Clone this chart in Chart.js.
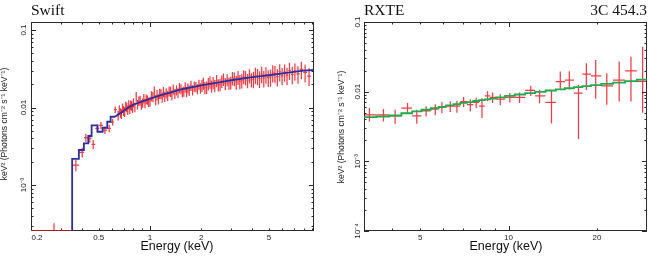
<!DOCTYPE html>
<html><head><meta charset="utf-8">
<script src="https://cdn.jsdelivr.net/npm/chart.js@4.4.0/dist/chart.umd.min.js"></script>
<style>
html,body{margin:0;padding:0;background:#fff;width:648px;height:257px;overflow:hidden}
.box{position:absolute;top:0;height:257px;width:324px}
canvas{display:block}
</style></head><body>
<div class="box" style="left:0"><canvas id="c1" width="324" height="257"></canvas></div>
<div class="box" style="left:324px"><canvas id="c2" width="324" height="257"></canvas></div>
<script>
// ---------- Swift XRT spectrum (flux in units of 1e-3 keV^2 ph cm^-2 s^-1 keV^-1) ----------
const swiftE = [0.367,0.40,0.42,0.443,0.464,0.49,0.515,0.544,0.576,0.603,0.625,
0.65,0.66,0.67,0.68,0.69,0.70,0.71,0.72,0.73,0.74,0.75,0.76,0.77,0.78,0.79,0.80,0.815,0.83,0.845,0.86,0.875,0.89,0.905,0.92,0.935,0.95,0.965,0.98,
1.00,1.02,1.04,1.06,1.08,1.10,1.12,1.14,1.16,1.18,1.20,1.22,1.245,1.27,1.295,1.32,1.345,1.37,1.40,1.43,1.46,1.49,1.52,1.55,1.58,1.61,1.64,1.67,1.70,1.74,1.78,1.82,1.86,1.90,1.94,1.98,
2.02,2.06,2.10,2.15,2.20,2.25,2.30,2.35,2.40,2.46,2.52,2.58,2.64,2.70,2.77,2.84,2.91,2.98,3.05,3.13,3.21,3.29,3.37,3.46,3.55,3.64,3.74,3.84,3.94,
4.05,4.16,4.28,4.40,4.53,4.66,4.80,4.95,5.10,5.26,5.42,5.60,5.78,5.97,6.17,6.38,6.60,6.85,7.10,7.40,7.75,8.15,8.60];
const swiftF = [1.81,2.64,4.1,4.0,3.35,5.4,5.9,5.1,5.4,6.5,9.4,
7.9,9.4,8.6,8.3,9.9,9.1,8.8,10.4,10.1,9.3,10.9,9.6,10.8,10.6,9.9,11.6,10.1,13.9,11.0,12.2,12.4,10.9,11.5,13.1,11.4,12.9,12.6,11.8,
12.0,14.1,13.8,16.2,12.6,14.6,12.9,15.2,15.0,13.6,16.0,13.9,15.4,14.2,16.3,16.1,14.5,17.2,15.1,16.9,15.5,18.0,17.4,15.8,16.2,18.4,16.0,17.9,16.6,19.2,16.9,18.8,18.5,17.4,19.9,17.8,
19.4,20.6,18.1,18.3,20.3,21.4,18.9,21.0,19.2,22.3,19.6,19.8,21.9,23.2,20.4,22.8,20.6,21.0,24.0,23.6,21.4,24.6,21.7,22.2,25.1,24.4,22.4,25.8,22.9,
23.3,26.2,25.5,23.6,27.0,24.0,26.6,24.3,24.8,28.0,27.4,25.0,29.0,25.9,28.7,26.1,30.2,26.8,29.6,27.1,31.0,28.4,25.5];
const swiftErr = [0.30,0.38,0.5,0.5,0.45,0.6,0.6,0.55,0.6,0.65,0.9,
1.1,1.3,1.2,1.2,1.4,1.3,1.25,1.45,1.4,1.3,1.5,1.35,1.5,1.5,1.4,1.6,1.4,2.0,1.55,1.7,1.75,1.55,1.6,1.85,1.6,1.8,1.75,1.65,
1.8,2.1,2.1,2.5,1.9,2.2,1.95,2.3,2.25,2.05,2.4,2.1,2.3,2.15,2.45,2.4,2.2,2.6,2.25,2.55,2.3,2.7,2.6,2.35,2.45,2.75,2.4,2.7,2.5,2.9,2.55,2.8,2.8,2.6,3.0,2.7,
3.5,3.7,3.3,3.3,3.7,3.9,3.4,3.8,3.5,4.0,3.5,3.6,4.0,4.2,3.7,4.1,3.8,3.9,4.8,4.8,4.4,5.1,4.5,4.6,5.2,5.1,4.7,5.4,4.8,
5.6,6.3,6.1,5.7,6.5,5.8,6.4,5.9,6.2,7.0,6.9,6.3,7.3,6.5,7.2,6.6,7.6,6.8,7.5,6.9,7.9,7.3,6.6];
// isolated low-energy channel near the bottom of the plot
const swiftLoneE = [0.273];
const swiftLoneF = [0.26];
const swiftLoneErr = [0.06];
// blue model: stepped low-energy part and smooth part
const swiftStepE = [0.349,0.349,0.382,0.409,0.434,0.454,0.492,0.527,0.561,0.587,0.623];
const swiftStepF = [0.1,1.42,2.17,2.83,3.45,4.29,5.89,4.87,5.48,6.55,7.6];
const swiftModelE = [0.623,0.65,0.70,0.757,0.80,0.85,0.90,1.0,1.1,1.2,1.3,1.5,1.7,2.0,2.5,3.0,3.5,4.0,4.5,5.0,6.0,7.0,8.0,9.2];
const swiftModelF = [7.6,8.1,9.0,10.2,10.9,11.5,12.0,12.9,13.9,14.8,15.5,17.0,18.0,19.3,21.0,22.5,23.7,24.7,25.4,26.1,27.6,28.8,30.0,30.5];
// data below the plotted range (drawn along the lower frame)
const swiftFloorE = [0.2, 0.349];
const swiftXTicks = [0.2, 0.5, 1, 2, 5];
const swiftYTicks = [0.1, 0.01, 0.001];
const swiftYLabels = ['0.1', '0.01', '10\u207B\u00B3'];

// ---------- RXTE spectrum (flux in units of 1e-3) ----------
const rxteE = [3.36,3.75,4.11,4.53,4.87,5.24,5.63,5.93,6.33,6.67,7.03,7.41,7.76,8.12,8.48,8.82,9.37,10.1,10.9,11.9,12.75,14.0,15.0,16.1,17.3,18.4,19.8,21.6,23.8,26.1,28.6];
const rxteF = [4.64,4.64,4.5,5.8,4.5,5.3,5.6,6.0,6.2,6.2,7.2,6.5,7.0,6.2,8.7,8.3,7.8,8.3,8.3,10.4,8.7,7.0,13.9,14.7,9.5,17.8,16.8,12.1,14.7,19.8,14.0];
const rxteErrLo = [0.9,0.9,1.05,1.0,1.05,0.9,1.0,1.1,1.1,1.2,1.2,1.3,1.2,2.0,1.4,1.4,1.4,1.3,1.4,1.7,1.9,3.5,3.3,4.0,7.4,7.2,8.9,5.6,7.5,12.6,9.0];
const rxteErrHi = [1.2,1.0,1.0,1.1,1.0,0.9,1.0,1.1,1.1,1.2,1.2,1.3,1.2,1.9,1.4,1.4,1.4,1.3,1.4,1.7,1.9,3.6,5.5,5.0,3.0,7.7,11.7,6.3,12.3,12.0,30.0];
const rxteModelF = [4.3,4.4,4.55,4.9,5.2,5.5,5.8,6.05,6.35,6.6,6.9,7.1,7.35,7.55,7.75,7.95,8.3,8.7,9.1,9.55,9.9,10.4,10.8,11.2,11.6,12.0,12.4,12.9,13.5,14.2,14.9];
const rxteXTicks = [5, 10, 20];
const rxteYTicks = [0.1, 0.01, 0.001, 0.0001];
const rxteYLabels = ['0.1', '0.01', '10\u207B\u00B3', '10\u207B\u2074'];

const U = 1e-3;
const RED = 'rgba(238,26,36,0.85)';
const SANS = '"Liberation Sans", Arial, sans-serif';
const SERIF = '"Liberation Serif", "Times New Roman", serif';

// bin edges from geometric midpoints of neighbouring channel energies
function edges(E) {
  const n = E.length, lo = [], hi = [];
  for (let i = 0; i < n; i++) {
    const l = i > 0 ? Math.sqrt(E[i-1]*E[i]) : E[0]*E[0]/Math.sqrt(E[0]*E[1]);
    const h = i < n-1 ? Math.sqrt(E[i]*E[i+1]) : E[n-1]*E[n-1]/Math.sqrt(E[n-2]*E[n-1]);
    lo.push(l); hi.push(h);
  }
  return {lo, hi};
}

function minorVals(min, max) {
  const v = [];
  for (let k = -6; k <= 3; k++) for (let m = 1; m <= 9; m++) {
    const t = m * Math.pow(10, k);
    if (t >= min*0.999 && t <= max*1.001) v.push(t);
  }
  return v;
}

function framePlugin(opts) {
  return {
    id: 'frame_' + opts.name,
    beforeDatasetsDraw(chart) {
      const {ctx, chartArea: a, scales: {x, y}} = chart;
      ctx.save();
      // error bars
      ctx.beginPath(); ctx.rect(a.left, a.top, a.right - a.left, a.bottom - a.top); ctx.clip();
      ctx.strokeStyle = RED; ctx.lineWidth = 1.25;
      opts.data.forEach(d => {
        for (let i = 0; i < d.E.length; i++) {
          const px = x.getPixelForValue(d.E[i]);
          const py = y.getPixelForValue(d.F[i] * U);
          const lo = Math.max(d.F[i] - d.eLo[i], 1e-6) * U;
          const hi = (d.F[i] + d.eHi[i]) * U;
          ctx.beginPath();
          ctx.moveTo(px, y.getPixelForValue(lo)); ctx.lineTo(px, y.getPixelForValue(hi));
          if (d.xlo) { ctx.moveTo(x.getPixelForValue(d.xlo[i]), py); ctx.lineTo(x.getPixelForValue(d.xhi[i]), py); }
          ctx.stroke();
        }
      });
      ctx.restore();
      ctx.save();
      // frame
      ctx.strokeStyle = '#2a2a2a'; ctx.lineWidth = 1;
      ctx.strokeRect(a.left + 0.5, a.top + 0.5, a.right - a.left - 1, a.bottom - a.top - 1);
      // ticks on all sides
      ctx.beginPath();
      minorVals(x.min, x.max).forEach(v => {
        const major = Math.abs(Math.log10(v) - Math.round(Math.log10(v))) < 1e-6;
        const L = major ? 5 : 2.5;
        const px = Math.round(x.getPixelForValue(v)) + 0.5;
        ctx.moveTo(px, a.bottom); ctx.lineTo(px, a.bottom - L);
        ctx.moveTo(px, a.top); ctx.lineTo(px, a.top + L);
      });
      minorVals(y.min, y.max).forEach(v => {
        const major = Math.abs(Math.log10(v) - Math.round(Math.log10(v))) < 1e-6;
        const L = major ? 5 : 2.5;
        const py = Math.round(y.getPixelForValue(v)) + 0.5;
        ctx.moveTo(a.left, py); ctx.lineTo(a.left + L, py);
        ctx.moveTo(a.right, py); ctx.lineTo(a.right - L, py);
      });
      ctx.stroke();
      ctx.restore();
    },
    afterDraw(chart) {
      const {ctx, chartArea: a, scales: {x, y}} = chart;
      ctx.save();
      ctx.fillStyle = '#222';
      // x tick labels
      ctx.font = '8px ' + SANS; ctx.textAlign = 'center'; ctx.textBaseline = 'middle';
      opts.xTicks.forEach(v => {
        let px = x.getPixelForValue(v);
        if (px < a.left + 6) px = a.left + 6;
        ctx.fillText(String(v), px, opts.xLabelY);
      });
      // y tick labels (rotated)
      opts.yTicks.forEach((v, i) => {
        const py = y.getPixelForValue(v);
        ctx.save(); ctx.translate(opts.yLabelX, py); ctx.rotate(-Math.PI/2);
        ctx.fillText(opts.yLabels[i], 0, 0); ctx.restore();
      });
      // y title
      ctx.font = '8.6px ' + SANS;
      ctx.save(); ctx.translate(opts.yTitleX, opts.yTitleY); ctx.rotate(-Math.PI/2);
      ctx.fillText('keV\u00B2 (Photons cm\u207B\u00B2 s\u207B\u00B9 keV\u207B\u00B9)', 0, 0); ctx.restore();
      // x title
      ctx.font = '12.5px ' + SANS; ctx.fillStyle = '#111';
      ctx.fillText('Energy (keV)', opts.xTitleX, 247);
      // panel titles
      ctx.font = '15.5px ' + SERIF; ctx.textBaseline = 'alphabetic'; ctx.fillStyle = '#111';
      ctx.textAlign = 'left'; ctx.fillText(opts.title, a.left, 15);
      if (opts.rightTitle) { ctx.textAlign = 'right'; ctx.fillText(opts.rightTitle, a.right, 15); }
      ctx.restore();
    }
  };
}

function logScales(xmin, xmax, ymin, ymax) {
  return {
    x: {type: 'logarithmic', min: xmin, max: xmax, display: false},
    y: {type: 'logarithmic', min: ymin, max: ymax, display: false}
  };
}

const baseOpts = (pad, scales) => ({
  responsive: false, animation: false, devicePixelRatio: 1,
  layout: {padding: pad},
  plugins: {legend: {display: false}, title: {display: false}, tooltip: {enabled: false}},
  scales: scales,
  elements: {point: {radius: 0}}
});

// ---------- Swift chart ----------
const se = edges(swiftE);
const sMin = 2.55e-4;
new Chart(document.getElementById('c1'), {
  type: 'line',
  data: {datasets: [
    {data: swiftStepE.map((e, i) => ({x: e, y: swiftStepF[i] * U})), borderColor: '#2d2f9c', borderWidth: 1.8, stepped: 'after', pointRadius: 0, fill: false},
    {data: swiftModelE.map((e, i) => ({x: e, y: swiftModelF[i] * U})), borderColor: '#2d2f9c', borderWidth: 1.8, pointRadius: 0, fill: false, tension: 0},
    {data: swiftFloorE.map(e => ({x: e, y: sMin})), borderColor: RED, borderWidth: 1.6, pointRadius: 0, fill: false}
  ]},
  options: baseOpts({left: 31, right: 10, top: 22, bottom: 26}, logScales(0.2, 9.19, sMin, 0.127)),
  plugins: [framePlugin({
    name: 'swift',
    data: [
      {E: swiftE, F: swiftF, eLo: swiftErr, eHi: swiftErr, xlo: se.lo, xhi: se.hi},
      {E: swiftLoneE, F: swiftLoneF, eLo: swiftLoneErr, eHi: swiftLoneErr}
    ],
    xTicks: swiftXTicks, yTicks: swiftYTicks, yLabels: swiftYLabels,
    xLabelY: 238, yLabelX: 23.5, yTitleX: 5, yTitleY: 124, xTitleX: 177,
    title: 'Swift'
  })]
});

// ---------- RXTE chart ----------
const re = edges(rxteE);
const rxteModelPts = [{x: re.lo[0], y: rxteModelF[0] * U}]
  .concat(rxteE.map((e, i) => ({x: e, y: rxteModelF[i] * U})))
  .concat([{x: re.hi[rxteE.length - 1], y: rxteModelF[rxteE.length - 1] * U}]);
new Chart(document.getElementById('c2'), {
  type: 'line',
  data: {datasets: [
    {data: rxteModelPts, borderColor: '#22a94c', borderWidth: 1.8, stepped: 'middle', pointRadius: 0, fill: false}
  ]},
  options: baseOpts({left: 40, right: 1, top: 22, bottom: 26}, logScales(3.22, 29.6, 1e-4, 0.1)),
  plugins: [framePlugin({
    name: 'rxte',
    data: [{E: rxteE, F: rxteF, eLo: rxteErrLo, eHi: rxteErrHi, xlo: re.lo, xhi: re.hi}],
    xTicks: rxteXTicks, yTicks: rxteYTicks, yLabels: rxteYLabels,
    xLabelY: 238, yLabelX: 33.5, yTitleX: 18, yTitleY: 127, xTitleX: 182,
    title: 'RXTE', rightTitle: '3C 454.3'
  })]
});
</script>
</body></html>
